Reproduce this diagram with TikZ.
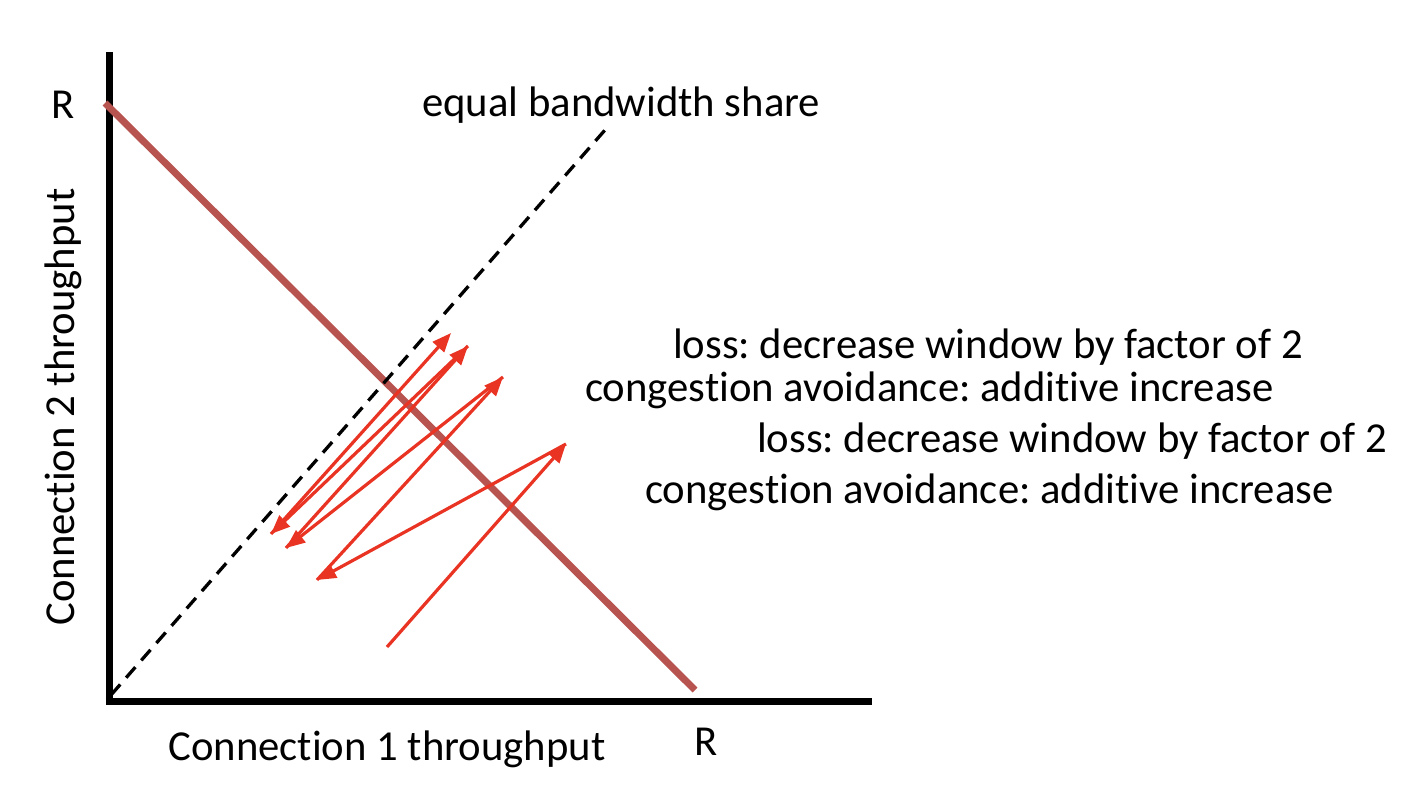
\documentclass[tikz,border=0pt]{standalone}
\usepackage{fontspec}
\setmainfont{Carlito}[Ligatures={NoCommon}]
\usetikzlibrary{arrows.meta}
\frenchspacing
\definecolor{lossred}{RGB}{233,51,35}
\definecolor{capbrown}{RGB}{184,84,80}
\tikzset{
  axisline/.style={line width=7pt,black},
  capline/.style={line width=7pt,capbrown},
  fairline/.style={line width=3.3pt,black,dash pattern=on 14pt off 9pt},
  zig/.style={line width=3.2pt,lossred,-{Triangle[length=19pt,width=15pt]}},
  lbl/.style={inner sep=0pt,font=\fontsize{42.7}{50}\selectfont}
}
\begin{document}
\begin{tikzpicture}[x=1pt,y=-1pt]
\useasboundingbox (0,0) rectangle (1422,790);
% axes
\coordinate (origin) at (109,701);
\coordinate (ytop) at (109,52);
\coordinate (xend) at (872,701);
\draw[axisline] (ytop) -- (109,704.5);
\draw[axisline] (105.5,701) -- (xend);
% capacity line
\coordinate (capA) at (105,103);
\coordinate (capB) at (695,690);
\draw[capline] (capA) -- (capB);
% equal share
\coordinate (eqA) at (111,695);
\coordinate (eqB) at (605,130);
\draw[fairline] (eqA) -- (eqB);
% zigzag
\coordinate (p0) at (387,647);
\coordinate (p1) at (566,444);
\coordinate (p2) at (317,580);
\coordinate (p3) at (503,377);
\coordinate (p4) at (286,548);
\coordinate (p5) at (468,346);
\coordinate (p6) at (271,534);
\coordinate (p7) at (451,333);
\draw[zig] (p0) -- (p1);
\draw[zig] (p1) -- (p2);
\draw[zig] (p2) -- (p3);
\draw[zig] (p3) -- (p4);
\draw[zig] (p4) -- (p5);
\draw[zig] (p5) -- (p6);
\draw[zig] (p6) -- (p7);
% labels
\node[lbl,anchor=base] (rY) at (63,118) {R};
\node[lbl,anchor=base] (rX) at (706,755) {R};
\node[lbl,anchor=base west] (eqlbl) at (422,116) {equal bandwidth share};
\node[lbl,anchor=base] (xlbl) at (387,760) {Connection 1 throughput};
\node[lbl,rotate=90] (ylbl) at (63,407) {Connection 2 throughput};
\node[lbl,anchor=base west] (t1) at (673,358) {loss: decrease window by factor of 2};
\node[lbl,anchor=base west] (t2) at (585,401) {congestion avoidance: additive increase};
\node[lbl,anchor=base west] (t3) at (757,452) {loss: decrease window by factor of 2};
\node[lbl,anchor=base west] (t4) at (645,503) {congestion avoidance: additive increase};
\end{tikzpicture}
\end{document}
